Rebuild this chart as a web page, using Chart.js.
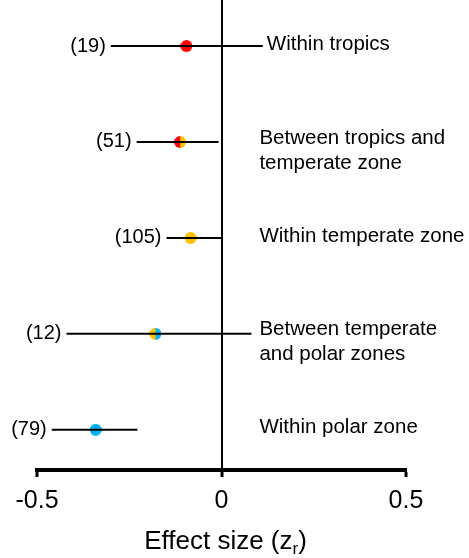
<!DOCTYPE html>
<html>
<head>
<meta charset="utf-8">
<script src="https://cdn.jsdelivr.net/npm/chart.js@4"></script>
<style>
  html, body { margin: 0; padding: 0; background: #fff; }
  #wrap { width: 469px; height: 558px; }
</style>
</head>
<body>
<div id="wrap"><canvas id="chart" width="469" height="558"></canvas></div>
<script>
// forest plot: effect size by climate zone
const counts = ['(19)', '(51)', '(105)', '(12)', '(79)'];
const zoneLabels = [
    ['Within tropics'],
    ['Between tropics and', 'temperate zone'],
    ['Within temperate zone'],
    ['Between temperate', 'and polar zones'],
    ['Within polar zone']
];
const effect = [-0.095, -0.112, -0.084, -0.179, -0.341];
const ciLow = [-0.30, -0.230, -0.149, -0.420, -0.460];
const ciHigh = [0.112, -0.008, 0.0, 0.081, -0.228];
const xTicks = [-0.5, 0, 0.5];

const RED = '#ff0000';
const ORANGE = '#ffc000';
const BLUE = '#00b0f0';
const markerColors = [[RED, RED], [RED, ORANGE], [ORANGE, ORANGE], [ORANGE, BLUE], [BLUE, BLUE]];

const FONT = '"Liberation Sans", Arial, Helvetica, sans-serif';

// two-tone circle markers
function makeMarker(left, right) {
    const r = 6;
    const c = document.createElement('canvas');
    c.width = r * 2;
    c.height = r * 2;
    const g = c.getContext('2d');
    g.fillStyle = left;
    g.beginPath();
    g.arc(r, r, r, Math.PI / 2, Math.PI * 1.5);
    g.closePath();
    g.fill();
    g.fillStyle = right;
    g.beginPath();
    g.arc(r, r, r, -Math.PI / 2, Math.PI / 2);
    g.closePath();
    g.fill();
    return c;
}

const barSets = ciLow.map((lo, i) => ({
    type: 'line',
    data: [{ x: lo, y: i }, { x: ciHigh[i], y: i }],
    borderColor: '#000',
    borderWidth: 2,
    pointRadius: 0,
    fill: false
}));

const pointSet = {
    type: 'scatter',
    data: effect.map((v, i) => ({ x: v, y: i })),
    pointStyle: markerColors.map(p => makeMarker(p[0], p[1])),
    pointRadius: 6
};

const labelPlugin = {
    id: 'rowLabels',
    afterDatasetsDraw(chart) {
        const { ctx, scales: { x, y } } = chart;
        ctx.save();
        ctx.fillStyle = '#000';
        ctx.font = '20px ' + FONT;
        ctx.textBaseline = 'middle';
        counts.forEach((c, i) => {
            ctx.textAlign = 'right';
            ctx.fillText(c, x.getPixelForValue(ciLow[i]) - 5, y.getPixelForValue(i));
        });
        ctx.font = '20.5px ' + FONT;
        ctx.textAlign = 'left';
        zoneLabels.forEach((lines, i) => {
            const left = Math.max(x.getPixelForValue(0.1) + 1, x.getPixelForValue(ciHigh[i]) + 4);
            const top = y.getPixelForValue(i) - (lines.length > 1 ? 4 : 2);
            lines.forEach((t, k) => ctx.fillText(t, left, top + k * 25));
        });

        // axis title with subscript
        const main = 'Effect size (z';
        ctx.font = '26px ' + FONT;
        const w1 = ctx.measureText(main).width;
        ctx.font = '17px ' + FONT;
        const w2 = ctx.measureText('r').width;
        ctx.font = '26px ' + FONT;
        const w3 = ctx.measureText(')').width;
        const cx = (x.left + x.right) / 2 + 4;
        let sx = cx - (w1 + w2 + w3) / 2;
        const base = 549;
        ctx.textBaseline = 'alphabetic';
        ctx.fillText(main, sx, base);
        sx += w1;
        ctx.font = '17px ' + FONT;
        ctx.fillText('r', sx, base + 5);
        sx += w2;
        ctx.font = '26px ' + FONT;
        ctx.fillText(')', sx, base);
        ctx.restore();
    }
};

new Chart(document.getElementById('chart'), {
    data: { datasets: [...barSets, pointSet] },
    options: {
        responsive: false,
        animation: false,
        layout: { autoPadding: false, padding: { left: 37, right: 63, top: 0, bottom: 0 } },
        plugins: { legend: { display: false }, tooltip: { enabled: false } },
        scales: {
            x: {
                type: 'linear',
                min: -0.5,
                max: 0.5,
                afterFit: s => { s.height = 88; },
                afterBuildTicks: s => { s.ticks = xTicks.map(v => ({ value: v })); },
                border: { display: true, color: '#000', width: 4 },
                grid: {
                    drawOnChartArea: true,
                    color: c => (c.tick && c.tick.value === 0 ? '#000' : 'rgba(0,0,0,0)'),
                    lineWidth: 2,
                    tickColor: '#000',
                    tickWidth: 3,
                    tickLength: 7
                },
                ticks: {
                    color: '#000',
                    font: { family: FONT, size: 25 },
                    padding: 9,
                    callback: v => String(v)
                }
            },
            y: {
                type: 'linear',
                display: false,
                reverse: true,
                min: -0.48,
                max: 4.42
            }
        }
    },
    plugins: [labelPlugin]
});
</script>
</body>
</html>
